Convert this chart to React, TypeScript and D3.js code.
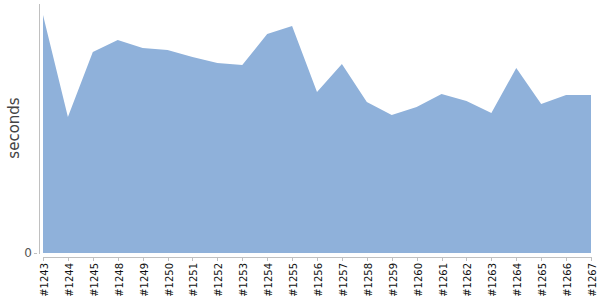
import React from "react";
import * as d3 from "d3";

const builds = ["#1243","#1244","#1245","#1248","#1249","#1250","#1251","#1252","#1253","#1254","#1255","#1256","#1257","#1258","#1259","#1260","#1261","#1262","#1263","#1264","#1265","#1266","#1267"];
const seconds = [238,136,201,213,205,203,196,190,188,219,227,161,189,151,138,146,159,152,140,185,149,158,158];
const yTicks = [0];

export default function App() {
  const W = 600, H = 300;
  const x = d3.scalePoint<string>().domain(builds).range([43, 591]);
  const y = d3.scaleLinear().domain([0, 249]).range([253, 4]);
  const data = builds.map((b, i) => ({ b, v: seconds[i] }));
  const area = d3.area<{ b: string; v: number }>()
    .x(d => x(d.b) as number)
    .y0(y(0))
    .y1(d => y(d.v))
    .curve(d3.curveLinear);
  return (
    <svg width={W} height={H} style={{ position: "absolute", left: 0, top: 0, fontFamily: "DejaVu Sans, sans-serif" }}>
      <path d={area(data) || ""} fill="#8fb1da" />
      <line x1={39.5} x2={39.5} y1={4} y2={254} stroke="#c0c0c0" />
      {yTicks.map(t => (
        <g key={t}>
          <line x1={34} x2={37} y1={y(t) + 0.5} y2={y(t) + 0.5} stroke="#c0c0c0" />
          <text x={32} y={y(t)} dy="0.35em" textAnchor="end" fontSize={12} fill="#555">{t}</text>
        </g>
      ))}
      <line x1={43} x2={592} y1={257.5} y2={257.5} stroke="#c0c0c0" />
      {builds.map(b => {
        const px = Math.round(x(b) as number) + 0.5;
        return (
          <g key={b}>
            <line x1={px} x2={px} y1={257} y2={261} stroke="#c0c0c0" />
            <text transform={`translate(${px + 4},263) rotate(-90)`} textAnchor="end" fontSize={10} fill="#111">{b}</text>
          </g>
        );
      })}
      <text transform={`translate(19,128) rotate(-90)`} textAnchor="middle" fontSize={15} fill="#444">seconds</text>
    </svg>
  );
}
